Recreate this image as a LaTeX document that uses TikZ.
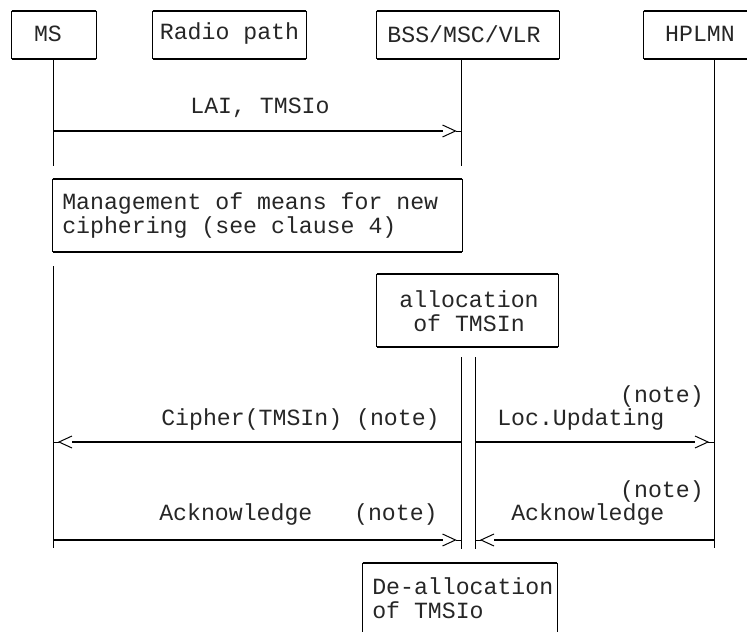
\documentclass[tikz,border=0pt]{standalone}
\usepackage{fontspec}
\setmonofont{Liberation Mono}
\tikzset{
  txt/.style={font=\ttfamily\fontsize{17.4}{18}\selectfont, inner sep=0pt, text=black!85},
  side/.style={line width=0.75pt},
  topbot/.style={line width=1.5pt},
  life/.style={line width=0.75pt},
  msgline/.style={line width=1.5pt},
  msgtip/.style={line width=0.75pt},
  frame/.style={inner sep=0pt, append after command={
    (\tikzlastnode.north west) edge[side] (\tikzlastnode.south west)
    (\tikzlastnode.north east) edge[side] (\tikzlastnode.south east)
    (\tikzlastnode.north west) edge[topbot] (\tikzlastnode.north east)
    (\tikzlastnode.south west) edge[topbot] (\tikzlastnode.south east)}},
  framenb/.style={inner sep=0pt, append after command={
    (\tikzlastnode.north west) edge[side] (\tikzlastnode.south west)
    (\tikzlastnode.north east) edge[side] (\tikzlastnode.south east)
    (\tikzlastnode.north west) edge[topbot] (\tikzlastnode.north east)}}
}
\newcommand\msgR[2]{%
  \draw[msgline] (#1) -- ([xshift=-14.25pt]#2);
  \draw[msgtip] ([xshift=-14.25pt,yshift=4.5pt]#2) -- ([xshift=-4.5pt]#2) -- ([xshift=-14.25pt,yshift=-4.5pt]#2);
  \draw[msgtip] ([xshift=-4.5pt]#2) -- (#2);}
\newcommand\msgL[2]{%
  \draw[msgline] (#1) -- ([xshift=14.25pt]#2);
  \draw[msgtip] ([xshift=14.25pt,yshift=4.5pt]#2) -- ([xshift=4.5pt]#2) -- ([xshift=14.25pt,yshift=-4.5pt]#2);
  \draw[msgtip] ([xshift=4.5pt]#2) -- (#2);}
\begin{document}
\begin{tikzpicture}[x=0.75pt,y=-0.75pt]
\useasboundingbox[fill=white] (0,0) rectangle (747,632);

% header boxes
\node[frame, minimum width=63pt, minimum height=36pt] (ms) at (54,35) {};
\node[txt] (msT) at (48,34) {MS};
\node[frame, minimum width=114.75pt, minimum height=36pt] (radio) at (229.5,35) {};
\node[txt] (radioT) at (229.5,34) {Radio path};
\node[frame, minimum width=136.5pt, minimum height=36pt] (bss) at (468,35) {};
\node[txt] (bssT) at (464,34) {BSS/MSC/VLR};
\node[frame, minimum width=84pt, minimum height=36pt] (hplmn) at (700,35) {};
\node[txt] (hplmnT) at (700,34) {HPLMN};

% lifeline coordinates
\coordinate (msA) at (53,59);
\coordinate (msB) at (53,166);
\coordinate (msC) at (53,266);
\coordinate (msD) at (53,548);
\coordinate (bssA) at (461.5,59);
\coordinate (bssB) at (461.5,166);
\coordinate (dlA) at (461.5,357);
\coordinate (dlB) at (461.5,549);
\coordinate (drA) at (475,357);
\coordinate (drB) at (475,549);
\coordinate (hA) at (714,59);
\coordinate (hB) at (714,548);

\draw[life] (msA) -- (msB);
\draw[life] (msC) -- (msD);
\draw[life] (bssA) -- (bssB);
\draw[life] (dlA) -- (dlB);
\draw[life] (drA) -- (drB);
\draw[life] (hA) -- (hB);

% LAI, TMSIo
\coordinate (m1) at (53,131);
\coordinate (b1) at (461.5,131);
\node[txt] (laiT) at (260,108) {LAI, TMSIo};
\msgR{m1}{b1}

% management box
\node[frame, minimum width=306.75pt, minimum height=54.75pt] (mgmt) at (257.5,215.5) {};
\node[txt, anchor=west, align=left] (mgmtT) at (62,215) {Management of means for new\\ciphering (see clause 4)};

% allocation box
\node[frame, minimum width=135.75pt, minimum height=54.75pt] (alloc) at (467.5,310.5) {};
\node[txt, align=center] (allocT) at (469,311) {allocation\\of TMSIn};

% Cipher
\coordinate (m2) at (53,442);
\coordinate (b2) at (461.5,442);
\node[txt, anchor=west] (cipT) at (161,419) {Cipher(TMSIn) (note)};
\msgL{b2}{m2}

% Loc.Updating
\coordinate (r2) at (475,442);
\coordinate (h2) at (714,442);
\node[txt, anchor=east] (locN) at (704,396) {(note)};
\node[txt, anchor=west] (locT) at (497,419) {Loc.Updating};
\msgR{r2}{h2}

% Acknowledge left
\coordinate (m3) at (53,540);
\coordinate (b3) at (461.5,540);
\node[txt, anchor=west] (ackT) at (159,514) {Acknowledge~~~(note)};
\msgR{m3}{b3}

% Acknowledge right
\coordinate (r3) at (475,540);
\coordinate (h3) at (714,540);
\node[txt, anchor=east] (ackN) at (704,491) {(note)};
\node[txt, anchor=west] (ack2T) at (511,514) {Acknowledge};
\msgL{h3}{r3}

% de-allocation box
\node[framenb, minimum width=145.5pt, minimum height=72.75pt] (dealloc) at (460,611.5) {};
\node[txt, anchor=west, align=left] (deallocT) at (372,598) {De-allocation\\of TMSIo};
\end{tikzpicture}
\end{document}
